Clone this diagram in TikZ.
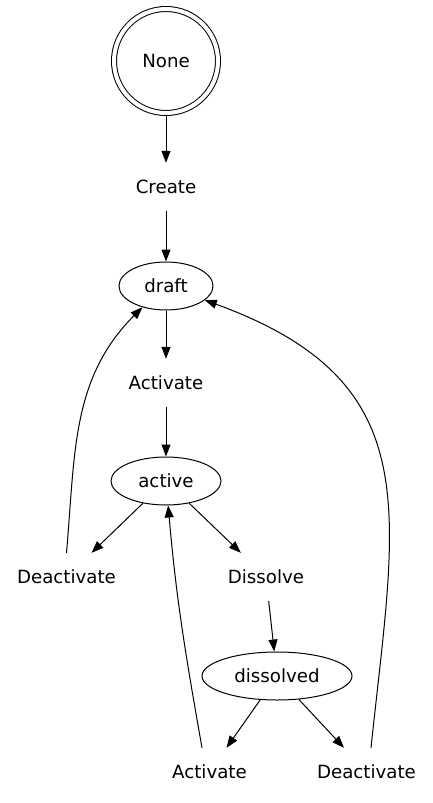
\documentclass[tikz,border=0pt]{standalone}
\usepackage{fontspec}
\setmainfont{DejaVu Sans}
\usetikzlibrary{shapes.geometric,arrows.meta}

\tikzset{
  statenode/.style={ellipse, draw, line width=1pt, inner sep=0pt, minimum height=48pt},
  actnode/.style={rectangle, inner sep=0pt, minimum height=48pt},
  flow/.style={-{Triangle[length=12pt,width=9pt]}, line width=1pt}
}

\begin{document}
\begin{tikzpicture}[x=1pt, y=1pt, font=\fontsize{18.2}{22}\selectfont]
  \useasboundingbox (0,0) rectangle (433,-803);
  % states (ellipses) and actions (plain labels)
  \node[circle, draw, double, double distance=4pt, line width=1pt,
        minimum size=104pt, inner sep=0pt, outer sep=2.5pt] (none) at (166,-61) {None};
  \node[actnode] (create) at (166,-187) {Create};
  \node[statenode, minimum width=94pt] (draft) at (166,-286) {draft};
  \node[actnode] (activate) at (166,-383) {Activate};
  \node[statenode, minimum width=110pt] (active) at (166,-481) {active};
  \node[actnode] (deactivate) at (66.5,-577) {Deactivate};
  \node[actnode] (dissolve) at (266,-577) {Dissolve};
  \node[statenode, minimum width=150pt] (dissolved) at (277,-676) {dissolved};
  \node[actnode] (reactivate) at (209.5,-772) {Activate};
  \node[actnode] (finaldeactivate) at (366.5,-772) {Deactivate};

  % transitions
  \draw[flow] (none) -- (create);
  \draw[flow] (create) -- (draft);
  \draw[flow] (draft) -- (activate);
  \draw[flow] (activate) -- (active);
  \draw[flow] (active) -- (deactivate);
  \draw[flow] (active) -- (dissolve);
  \draw[flow] (dissolve) -- (dissolved);
  \draw[flow] (dissolved) -- (reactivate);
  \draw[flow] (dissolved) -- (finaldeactivate);
  % back edges
  \draw[flow] (deactivate.north) to[out=85, in=225] (draft.222);
  \draw[flow] ([xshift=-7.5pt]reactivate.north) to[out=100, in=-85] (active.275);
  \draw[flow] ([xshift=4.5pt]finaldeactivate.north) to[out=84, in=-20, looseness=1.28] (draft.340);
\end{tikzpicture}
\end{document}
